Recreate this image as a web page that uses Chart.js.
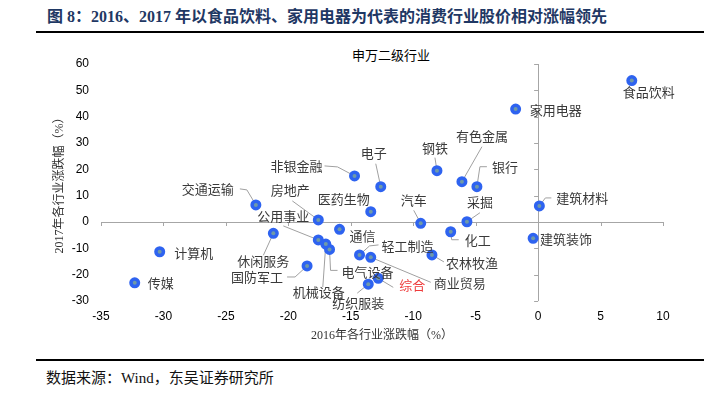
<!DOCTYPE html>
<html lang="zh-CN">
<head>
    <meta charset="UTF-8">
    <title>图 8：消费行业股价相对涨幅领先</title>
    <script src="https://cdn.jsdelivr.net/npm/chart.js"></script>
    <style>
        body {
            margin: 0;
            width: 704px;
            height: 399px;
            background: #fff;
            position: relative;
            overflow: hidden;
            font-family: 'Liberation Serif', 'Noto Sans CJK SC', serif;
        }

        .fig-title {
            position: absolute;
            left: 47px;
            top: 7px;
            line-height: 20px;
            font-size: 16px;
            font-weight: bold;
            color: #1f3864;
            white-space: nowrap;
        }

        .rule {
            position: absolute;
            left: 36px;
            right: 0;
            height: 2px;
            background: #000;
        }

        .chart-title {
            position: absolute;
            left: 291px;
            width: 200px;
            top: 47px;
            line-height: 16px;
            text-align: center;
            font-family: 'Noto Sans CJK SC', sans-serif;
            font-size: 13px;
            color: #000;
        }

        .source {
            position: absolute;
            left: 46px;
            top: 368px;
            line-height: 20px;
            font-size: 15px;
            color: #111;
            white-space: nowrap;
        }

        #chart {
            position: absolute;
            left: 0;
            top: 40px;
        }
    </style>
</head>
<body>
    <div class="fig-title">图 8：2016、2017 年以食品饮料、家用电器为代表的消费行业股价相对涨幅领先</div>
    <div class="rule" style="top:31px"></div>
    <div class="chart-title">申万二级行业</div>
    <canvas id="chart" width="704" height="311"></canvas>
    <div class="rule" style="top:359px"></div>
    <div class="source">数据来源：Wind，东吴证券研究所</div>

    <script>
        // industries and their 2016 / 2017 price change (%)
        const industries = ['食品饮料', '家用电器', '建筑材料', '建筑装饰', '钢铁', '有色金属', '银行',
            '非银金融', '电子', '医药生物', '交通运输', '房地产', '汽车', '采掘', '通信', '化工',
            '休闲服务', '公用事业', '机械设备', '电气设备', '计算机', '轻工制造', '商业贸易',
            '农林牧渔', '国防军工', '综合', '纺织服装', '传媒'];
        const change2016 = [7.5, -1.8, 0.1, -0.4, -8.1, -6.1, -4.9,
            -14.7, -12.6, -13.4, -22.6, -17.6, -9.4, -5.7, -15.9, -7.0,
            -21.2, -17.6, -17.0, -16.7, -30.3, -14.3, -13.4,
            -8.5, -18.5, -12.8, -13.6, -32.3];
        const change2017 = [53.7, 42.9, 6.1, -6.2, 19.5, 15.3, 13.4,
            17.5, 13.4, 3.9, 6.5, 0.8, -0.5, 0.1, -2.8, -3.7,
            -4.3, -6.8, -8.4, -10.4, -11.3, -12.5, -13.4,
            -12.5, -16.7, -21.4, -23.6, -23.1];

        const xTicks = { min: -35, max: 10, step: 5 };
        const yTicks = { min: -30, max: 60, step: 10 };

        // label placement (px offset from the point) and leader lines
        const labelOffsets = [[17, 11], [40, 1], [43, -8], [33, 1], [-2, -23], [20, -46], [28, -20],
            [-58, -10], [-7, -34], [-27, -13], [-48, -16], [-28, -30], [-7, -23], [13, -20], [23, 7], [27, 8],
            [-10, 28], [-35, -24], [-7, 48], [38, 23], [34, 1], [48, -9], [89, 26],
            [40, 8], [-50, 11], [34, 7], [-10, 19], [26, 0]];
        const leaders = [null, null, [[6, -8], [12, -8]], null, [[-2, -13]], [[20, -35]], [[3, -20], [10, -20]],
            [[-17, -9], [-30, -10]], [[-5, -23]], null, [[-9, -15], [-16, -16]], [[-26, -19]], [[-7, -13]], [[13, -9]], null, [[1, 8], [8, 8]],
            [[-10, 22]], [[-35, -14]], [[-3, 43]], [[1, 21], [8, 21]], null, [[10, -9], [19, -10]], [[60, 25]],
            [[12, 7]], [[-12, 11], [-20, 11]], [[15, 9]], [[-11, 9]], null];

        const axisGrey = '#a6a6a6';

        // axes cross at zero, with small tick marks
        const zeroAxes = {
            id: 'zeroAxes',
            beforeDatasetsDraw(chart) {
                const { ctx, scales: { x, y } } = chart;
                const x0 = x.getPixelForValue(0);
                const y0 = y.getPixelForValue(0);
                ctx.save();
                ctx.strokeStyle = axisGrey;
                ctx.lineWidth = 1;
                ctx.beginPath();
                ctx.moveTo(x.getPixelForValue(xTicks.min), y0 + 0.5);
                ctx.lineTo(x.getPixelForValue(xTicks.max), y0 + 0.5);
                ctx.moveTo(Math.round(x0) + 0.5, y.getPixelForValue(yTicks.min));
                ctx.lineTo(Math.round(x0) + 0.5, y.getPixelForValue(yTicks.max));
                x.ticks.forEach(t => {
                    const px = Math.round(x.getPixelForValue(t.value)) + 0.5;
                    ctx.moveTo(px, y0);
                    ctx.lineTo(px, y0 + 4);
                });
                y.ticks.forEach(t => {
                    const py = Math.round(y.getPixelForValue(t.value)) + 0.5;
                    ctx.moveTo(x0 - 4, py);
                    ctx.lineTo(x0, py);
                });
                ctx.stroke();

                // leader lines, under the markers
                const meta = chart.getDatasetMeta(0);
                ctx.strokeStyle = '#a0a0a0';
                leaders.forEach((path, i) => {
                    if (!path) return;
                    const p = meta.data[i];
                    ctx.beginPath();
                    ctx.moveTo(p.x, p.y);
                    path.forEach(([dx, dy]) => ctx.lineTo(p.x + dx, p.y + dy));
                    ctx.stroke();
                });
                ctx.restore();
            },
            afterDatasetsDraw(chart) {
                const { ctx } = chart;
                const meta = chart.getDatasetMeta(0);
                ctx.save();
                // inner dot of each marker
                ctx.fillStyle = '#6f9aa8';
                meta.data.forEach(p => {
                    ctx.beginPath();
                    ctx.arc(p.x, p.y, 2, 0, Math.PI * 2);
                    ctx.fill();
                });
                ctx.font = "13px 'Noto Sans CJK SC', sans-serif";
                ctx.textAlign = 'center';
                ctx.textBaseline = 'middle';
                meta.data.forEach((p, i) => {
                    const [dx, dy] = labelOffsets[i];
                    ctx.fillStyle = industries[i] === '综合' ? '#ee3b3b' : '#3a3a3a';
                    ctx.fillText(industries[i], p.x + dx, p.y + dy);
                });
                ctx.restore();
            }
        };

        const ctx = document.getElementById('chart').getContext('2d');
        new Chart(ctx, {
            type: 'scatter',
            data: {
                datasets: [{
                    data: industries.map((n, i) => ({ x: change2016[i], y: change2017[i] })),
                    pointRadius: 4,
                    pointHoverRadius: 4,
                    backgroundColor: '#2e63f0',
                    borderColor: '#2e63f0',
                    borderWidth: 3
                }]
            },
            options: {
                responsive: false,
                animation: false,
                devicePixelRatio: 1,
                layout: { padding: { top: 24, right: 41, left: 0, bottom: 0 } },
                plugins: {
                    legend: { display: false },
                    tooltip: { enabled: false }
                },
                scales: {
                    x: {
                        type: 'linear',
                        position: 'bottom',
                        min: xTicks.min,
                        max: xTicks.max,
                        ticks: {
                            stepSize: xTicks.step,
                            padding: 8,
                            color: '#000',
                            font: { family: "'Liberation Sans', Arial, sans-serif", size: 12 }
                        },
                        grid: { display: false, drawTicks: false },
                        border: { display: false },
                        title: {
                            display: true,
                            text: '2016年各行业涨跌幅（%）',
                            color: '#333',
                            font: { family: "'Liberation Serif', 'Noto Sans CJK SC', serif", size: 12 },
                            padding: { top: 4, bottom: 8 }
                        },
                        afterFit(scale) { scale.height = 50; }
                    },
                    y: {
                        type: 'linear',
                        min: yTicks.min,
                        max: yTicks.max,
                        ticks: {
                            stepSize: yTicks.step,
                            padding: 12,
                            color: '#000',
                            font: { family: "'Liberation Sans', Arial, sans-serif", size: 12 }
                        },
                        grid: { display: false, drawTicks: false },
                        border: { display: false },
                        title: {
                            display: true,
                            text: '2017年各行业涨跌幅（%）',
                            color: '#333',
                            font: { family: "'Liberation Serif', 'Noto Sans CJK SC', serif", size: 12 },
                            padding: { top: 53, bottom: 0 }
                        },
                        afterFit(scale) { scale.width = 101; }
                    }
                }
            },
            plugins: [zeroAxes]
        });
    </script>
</body>
</html>
